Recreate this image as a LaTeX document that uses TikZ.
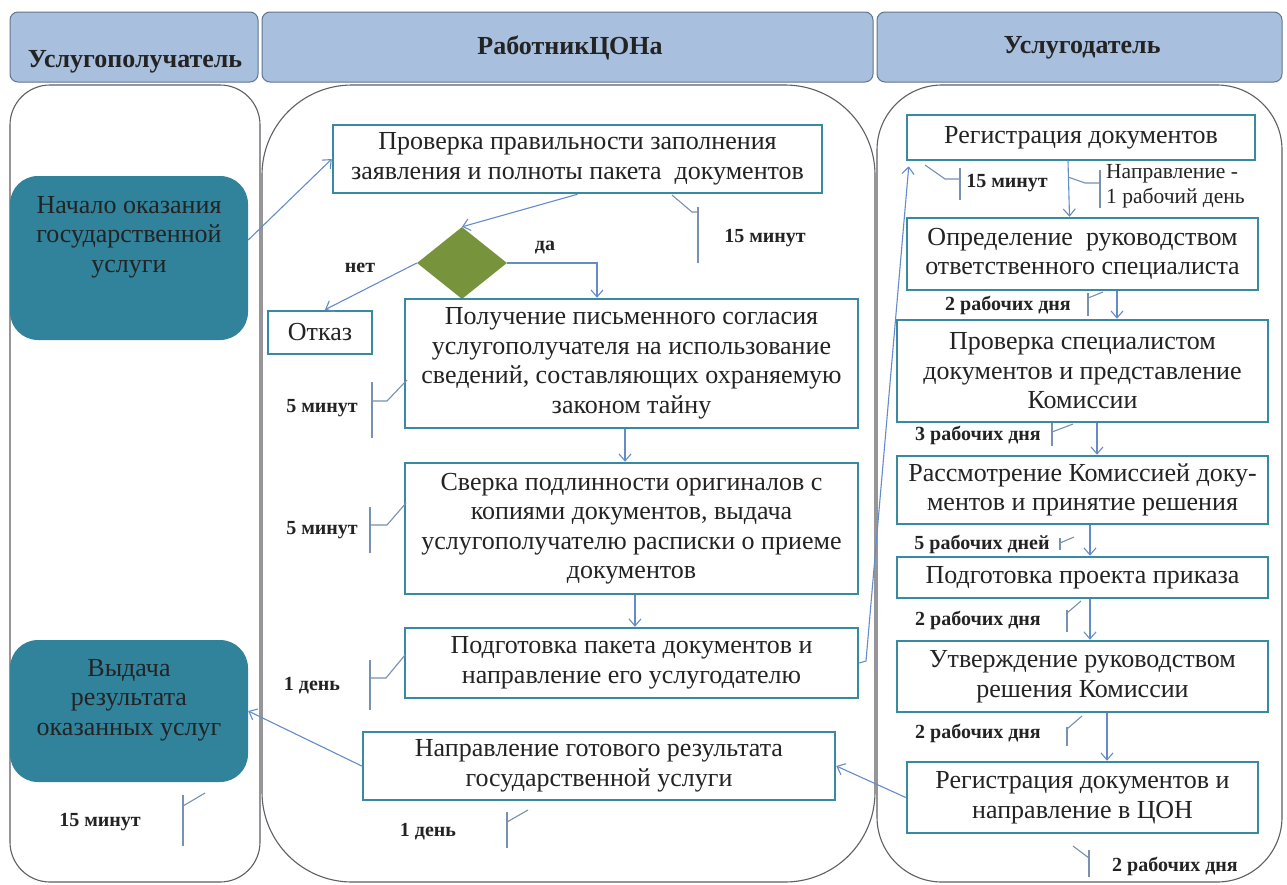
\documentclass[tikz,border=0pt]{standalone}
\usepackage{fontspec}
\setmainfont{Liberation Serif}
\usetikzlibrary{shapes.geometric,arrows.meta}
\definecolor{headfill}{RGB}{168,191,221}
\definecolor{headdraw}{RGB}{95,117,144}
\definecolor{lanegray}{RGB}{95,95,100}
\definecolor{boxteal}{RGB}{56,138,160}
\definecolor{tealfill}{RGB}{49,130,155}
\definecolor{olive}{RGB}{119,147,60}
\definecolor{connblue}{RGB}{100,140,200}
\definecolor{callgray}{RGB}{120,145,175}
\definecolor{textgray}{RGB}{35,35,35}
\newcommand\bxfont{\fontsize{26}{29.5}\selectfont}
\newcommand\hdfont{\fontsize{26}{30}\selectfont\bfseries}
\newcommand\smfont{\fontsize{20}{24}\selectfont\bfseries}
\newcommand\smnfont{\fontsize{21.5}{25}\selectfont}
\begin{document}
\begin{tikzpicture}[x=1pt,y=-1pt,
  lane/.style={draw=lanegray, line width=1.1pt, rectangle, inner sep=0pt},
  head/.style={draw=headdraw, fill=headfill, line width=1pt, rounded corners=8pt, inner sep=0pt},
  hdtext/.style={font=\hdfont, text=textgray, inner sep=0pt},
  pbox/.style={draw=boxteal, line width=2.5pt, fill=white, align=center, font=\bxfont, inner sep=0pt, text=textgray},
  tealbox/.style={fill=tealfill, rounded corners=28pt, inner sep=0pt},
  tealtext/.style={align=center, font=\bxfont, text=textgray, inner sep=0pt},
  conn/.style={draw=connblue, line width=1.1pt, -{Straight Barb[length=7pt,width=12pt]}},
  callout/.style={draw=callgray, line width=1.1pt},
  tlabel/.style={font=\smfont, text=textgray, inner sep=0pt},
]
\useasboundingbox (0,0) rectangle (1287,884);
\fill[white] (0,0) rectangle (1287,884);

% lanes
\node[lane, rounded corners=40pt, minimum width=250pt, minimum height=797pt] (L1) at (135,483.5) {};
\node[lane, rounded corners=90pt, minimum width=613pt, minimum height=797pt] (L2) at (568.5,483.5) {};
\node[lane, rounded corners=65pt, minimum width=405pt, minimum height=797pt] (L3) at (1079.5,483.5) {};

% headers
\node[head, minimum width=248pt, minimum height=70pt] (H1) at (134,47) {};
\node[hdtext] (H1t) at (135,62) {Услугополучатель};
\node[head, minimum width=611pt, minimum height=70pt] (H2) at (567.5,47) {};
\node[hdtext] (H2t) at (570,48) {РаботникЦОНа};
\node[head, minimum width=405pt, minimum height=70pt] (H3) at (1079.5,47) {};
\node[hdtext] (H3t) at (1082,48) {Услугодатель};

% left lane
\node[tealbox, minimum width=238pt, minimum height=164pt] (N1) at (129,258) {};
\node[tealtext] (N1t) at (129,237) {Начало оказания\\государственной\\услуги};
\node[tealbox, minimum width=238pt, minimum height=142pt] (N2) at (129,711) {};
\node[tealtext] (N2t) at (129,700) {Выдача\\результата\\оказанных услуг};

% middle lane
\node[pbox, minimum width=489pt, minimum height=68pt] (A) at (577.5,159) {Проверка правильности заполнения\\заявления и полноты пакета\ \ документов};
\node[diamond, fill=olive, minimum width=90pt, minimum height=72pt, inner sep=0pt] (D) at (462,263) {};
\node[pbox, minimum width=104pt, minimum height=43pt] (OT) at (320,332.5) {Отказ};
\node[pbox, minimum width=453pt, minimum height=129pt] (B) at (631.5,363.5) {Получение письменного согласия\\услугополучателя на использование\\сведений, составляющих охраняемую\\законом тайну};
\node[pbox, minimum width=453pt, minimum height=131pt] (C) at (631.5,528.5) {Сверка подлинности оригиналов с\\копиями документов, выдача\\услугополучателю расписки о приеме\\документов};
\node[pbox, minimum width=453pt, minimum height=70pt] (DD) at (631.5,663) {Подготовка пакета документов и\\направление его услугодателю};
\node[pbox, minimum width=472pt, minimum height=68pt] (F) at (599,766) {Направление готового результата\\государственной услуги};

% right lane
\node[pbox, minimum width=348pt, minimum height=45pt] (R1) at (1081,137.5) {Регистрация документов};
\node[pbox, minimum width=351pt, minimum height=72pt] (R2) at (1082.5,254) {Определение\ \ руководством\\ответственного специалиста};
\node[pbox, minimum width=371pt, minimum height=102pt] (R3) at (1082.5,371) {Проверка специалистом\\документов и представление\\Комиссии};
\node[pbox, minimum width=371pt, minimum height=68pt] (R4) at (1082.5,490) {Рассмотрение Комиссией доку-\\ментов и принятие решения};
\node[pbox, minimum width=371pt, minimum height=41pt] (R5) at (1082.5,577.5) {Подготовка проекта приказа};
\node[pbox, minimum width=371pt, minimum height=71pt] (R6) at (1082.5,676.5) {Утверждение руководством\\решения Комиссии};
\node[pbox, minimum width=351pt, minimum height=71pt] (R7) at (1082.5,797.5) {Регистрация документов и\\направление в ЦОН};

% labels
\node[tlabel] (lno) at (360,268) {нет};
\node[tlabel] (lyes) at (545,248) {да};

% connectors
\draw[conn] ([yshift=18pt]N1.east) -- (A.west);
\draw[conn] (A.south) -- (D.north);
\draw[conn] (D.west) -- ([xshift=5pt]OT.north);
\draw[conn] (D.east) -| ([xshift=-34.5pt]B.north);
\draw[conn] ([xshift=-6.5pt]B.south) -- ([xshift=-6.5pt]C.north);
\draw[conn] ([xshift=3.5pt]C.south) -- ([xshift=3.5pt]DD.north);
\coordinate (DK) at (866,661);
\draw[conn] (DD.east) -- (DK) -- ([xshift=3pt,yshift=-5pt]R1.south west);
\draw[conn] ([xshift=-13pt]R1.south) -- ([xshift=-13pt]R2.north);
\draw[conn] ([xshift=34.5pt]R2.south) -- ([xshift=34.5pt]R3.north);
\draw[conn] ([xshift=14.5pt]R3.south) -- ([xshift=14.5pt]R4.north);
\draw[conn] ([xshift=7.5pt]R4.south) -- ([xshift=7.5pt]R5.north);
\draw[conn] ([xshift=7.5pt]R5.south) -- ([xshift=7.5pt]R6.north);
\draw[conn] ([xshift=24.5pt]R6.south) -- ([xshift=24.5pt]R7.north);
\draw[conn] (R7.west) -- (F.east);
\draw[conn] (F.west) -- (N2.east);

% callouts
\draw[callout] (672,195) -- (692,212) -- (698,212);
\draw[callout] (698,207) -- (698,263);
\node[tlabel] (c1) at (765,238) {15 минут};

\draw[callout] (407,380) -- (387,401) -- (372,401);
\draw[callout] (372,382) -- (372,438);
\node[tlabel] (c2) at (322,408) {5 минут};

\draw[callout] (406,503) -- (387,525) -- (370,525);
\draw[callout] (370,507) -- (370,553);
\node[tlabel] (c3) at (322,530) {5 минут};

\draw[callout] (405,655) -- (386,678) -- (370,678);
\draw[callout] (370,660) -- (370,710);
\node[tlabel] (c4) at (312,686) {1 день};

\draw[callout] (507,822) -- (528,810);
\draw[callout] (507,812) -- (507,848);
\node[tlabel] (c5) at (428,832) {1 день};

\draw[callout] (183,806) -- (205,793);
\draw[callout] (183,795) -- (183,846);
\node[tlabel] (c6) at (100,822) {15 минут};

\draw[callout] (925,165) -- (945,179) -- (960,179);
\draw[callout] (960,168) -- (960,200);
\node[tlabel] (c7) at (1007,183) {15 минут};

\draw[callout] (1068,177) -- (1085,183) -- (1100,183);
\draw[callout] (1100,170) -- (1100,208);
\node[font=\smnfont, text=textgray, inner sep=0pt, anchor=west, align=left] (c8) at (1106,186) {Направление -\\1 рабочий день};

\draw[callout] (1088,298) -- (1103,292);
\draw[callout] (1088,293) -- (1088,316);
\node[tlabel] (c9) at (1008,305) {2 рабочих дня};

\draw[callout] (1052,432) -- (1073,424);
\draw[callout] (1052,423) -- (1052,446);
\node[tlabel] (c10) at (978,435) {3 рабочих дня};

\draw[callout] (1060,543) -- (1074,537);
\draw[callout] (1060,538) -- (1060,550);
\node[tlabel] (c11) at (982,544) {5 рабочих дней};

\draw[callout] (1067,613) -- (1081,601);
\draw[callout] (1067,610) -- (1067,632);
\node[tlabel] (c12) at (978,620) {2 рабочих дня};

\draw[callout] (1067,729) -- (1082,716);
\draw[callout] (1067,727) -- (1067,746);
\node[tlabel] (c13) at (978,733) {2 рабочих дня};

\draw[callout] (1073,846) -- (1089,858);
\draw[callout] (1089,850) -- (1089,877);
\node[tlabel] (c14) at (1175,866) {2 рабочих дня};
\end{tikzpicture}
\end{document}
